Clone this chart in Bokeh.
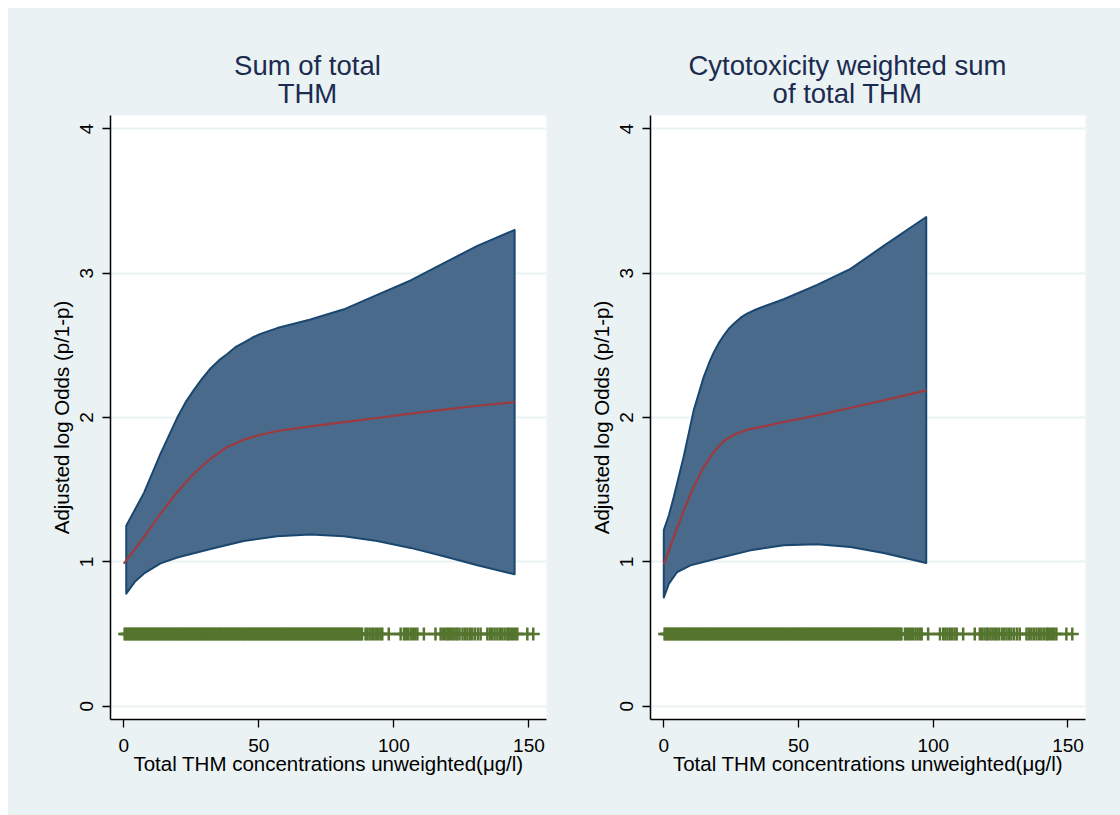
import math
from bokeh.plotting import figure
from bokeh.layouts import row, column
from bokeh.models import FixedTicker, Range1d, Title, Spacer
from bokeh.embed import file_html
from bokeh.resources import INLINE

# ---------------- data ----------------
titles_left = ["Sum of total", "THM"]
titles_right = ["Cytotoxicity weighted sum", "of total THM"]
x_label = "Total THM concentrations unweighted(\u03bcg/l)"
y_label = "Adjusted log Odds (p/1-p)"
x_ticks = [0, 50, 100, 150]
y_ticks = [0, 1, 2, 3, 4]

# Left panel: sum of total THM
l_up_x = [0.9, 7.5, 13.6, 19.8, 22.9, 25.9, 29.0, 32.1, 35.2, 38.3, 41.3, 44.4, 47.5, 50.6, 56.8,
          69.1, 81.5, 93.8, 106.2, 118.5, 130.9, 144.7]
l_up_y = [1.25, 1.48, 1.75, 2.00, 2.107, 2.19, 2.27, 2.34, 2.396, 2.44, 2.488, 2.52, 2.553, 2.58, 2.62,
          2.68, 2.75, 2.85, 2.95, 3.07, 3.19, 3.30]
l_lo_x = [0.9, 4.0, 7.5, 13.6, 19.8, 32.1, 44.4, 56.8, 69.1, 81.5, 93.8, 106.2, 118.5, 130.9, 144.7]
l_lo_y = [0.78, 0.86, 0.92, 0.99, 1.03, 1.09, 1.145, 1.177, 1.189, 1.177, 1.145, 1.097, 1.039, 0.977, 0.914]
l_fit_x = [0.0, 7.5, 13.6, 19.8, 25.9, 32.1, 38.3, 44.4, 50.6, 56.8, 69.1, 81.5, 93.8, 106.2, 118.5, 130.9, 144.7]
l_fit_y = [0.988, 1.173, 1.334, 1.484, 1.611, 1.715, 1.796, 1.847, 1.881, 1.907, 1.939, 1.969, 1.997, 2.027, 2.055, 2.082, 2.107]

# Right panel: cytotoxicity weighted sum
r_up_x = [0.0, 1.9, 3.7, 7.4, 11.1, 14.8, 16.7, 18.5, 20.4, 22.3, 24.1, 26.0, 28.5, 30.9, 34.0, 37.1,
          44.5, 56.9, 69.3, 81.6, 97.4]
r_up_y = [1.22, 1.323, 1.45, 1.73, 2.05, 2.28, 2.373, 2.45, 2.516, 2.57, 2.615, 2.65, 2.692, 2.72, 2.747, 2.77,
          2.82, 2.92, 3.03, 3.19, 3.39]
r_lo_x = [0.0, 1.9, 5.0, 9.9, 19.8, 32.2, 44.5, 56.9, 69.3, 81.6, 97.4]
r_lo_y = [0.753, 0.85, 0.93, 0.976, 1.023, 1.08, 1.115, 1.122, 1.103, 1.062, 0.993]
r_fit_x = [0.0, 3.7, 7.4, 11.1, 14.8, 18.5, 22.3, 26.0, 30.9, 37.1, 44.5, 56.9, 69.3, 81.6, 97.4]
r_fit_y = [0.983, 1.173, 1.357, 1.519, 1.657, 1.761, 1.838, 1.881, 1.916, 1.939, 1.969, 2.015, 2.068, 2.119, 2.188]

# Rug of observed concentrations (shown at y = 0.5)
rug_level = 0.5
rug_x = [
    0.3, 0.8, 1.4, 1.9, 2.5, 3.0, 3.6, 4.1, 4.7, 5.2, 5.8, 6.4, 6.9, 7.5, 8.0, 8.6, 9.1, 9.7,
    10.2, 10.8, 11.4, 11.9, 12.5, 13.0, 13.6, 14.1, 14.7, 15.3, 15.8, 16.4, 16.9, 17.5, 18.0,
    18.6, 19.2, 19.7, 20.3, 20.8, 21.4, 21.9, 22.5, 23.1, 23.6, 24.2, 24.7, 25.3, 25.8, 26.4,
    27.0, 27.5, 28.1, 28.6, 29.2, 29.7, 30.3, 30.9, 31.4, 32.0, 32.5, 33.1, 33.6, 34.2, 34.8,
    35.3, 35.9, 36.4, 37.0, 37.5, 38.1, 38.7, 39.2, 39.8, 40.3, 40.9, 41.4, 42.0, 42.6, 43.1,
    43.7, 44.2, 44.8, 45.3, 45.9, 46.5, 47.0, 47.6, 48.1, 48.7, 49.2, 49.8, 50.4, 50.9, 51.5,
    52.0, 52.6, 53.1, 53.7, 54.3, 54.8, 55.4, 55.9, 56.5, 57.0, 57.6, 58.2, 58.7, 59.3, 59.8,
    60.4, 60.9, 61.5, 62.1, 62.6, 63.2, 63.7, 64.3, 64.8, 65.4, 66.0, 66.5, 67.1, 67.6, 68.2,
    68.7, 69.3, 69.9, 70.4, 71.0, 71.5, 72.1, 72.6, 73.2, 73.8, 74.3, 74.9, 75.4, 76.0, 76.5,
    77.1, 77.7, 78.2, 78.8, 79.3, 79.9, 80.4, 81.0, 81.6, 82.1, 82.7, 83.2, 83.8, 84.3, 84.9,
    85.5, 86.0, 86.6, 87.1, 87.7, 88.2,
    89.5, 90.2, 91.0, 91.8, 92.5, 93.4, 94.2, 95.0, 95.7, 98.1, 102.5, 103.7, 104.5, 105.3,
    106.2, 107.0, 107.9, 108.7, 111.1, 115.4, 117.3, 118.1, 119.0, 119.8, 120.3, 121.2, 122.0,
    122.8, 123.5, 124.3, 125.4, 126.3, 127.2, 128.1, 129.0, 130.0, 131.1, 132.1, 134.6, 135.5,
    136.4, 137.3, 138.3, 139.2, 140.1, 141.0, 142.0, 142.5, 143.3, 144.1, 144.9, 145.7, 149.4,
    151.6,
]

# ---------------- style ----------------
BG = "#EAF2F3"
NAVY = "#1A476F"
BAND = "#4A6A8C"
MAROON = "#9E3A3E"
GREEN = "#55752F"
TITLE_C = "#1C2B50"
FONT = "Liberation Sans"


def make_panel(width, right_border, titles, title_offsets, up_x, up_y, lo_x, lo_y, fit_x, fit_y):
    p = figure(width=width, height=807, output_backend="svg", toolbar_location=None,
               x_range=Range1d(-4.93, 156.5), y_range=Range1d(-0.092, 4.093),
               min_border_left=102, min_border_right=right_border,
               min_border_top=107, min_border_bottom=96)
    p.background_fill_color = "white"
    p.border_fill_color = BG
    p.outline_line_color = None

    # band as a closed patch (upper then reversed lower)
    bx = list(up_x) + list(reversed(lo_x))
    by = list(up_y) + list(reversed(lo_y))
    p.patch(bx, by, fill_color=BAND, line_color=NAVY, line_width=2, line_join="round")
    p.line(fit_x, fit_y, line_color=MAROON, line_width=2.2, line_join="round")

    # rug
    ry = [rug_level] * len(rug_x)
    p.line(rug_x, ry, line_color=GREEN, line_width=2.4)
    p.scatter(rug_x, ry, marker="cross", size=13, line_color=GREEN, line_width=2.5)

    for ax in (p.xaxis, p.yaxis):
        ax.axis_line_color = "black"
        ax.axis_line_width = 1.5
        ax.major_tick_line_color = "black"
        ax.major_tick_line_width = 1.3
        ax.major_tick_out = 8
        ax.major_tick_in = 0
        ax.minor_tick_line_color = None
        ax.major_label_text_font = FONT
        ax.major_label_text_font_size = "19px"
        ax.major_label_text_color = "black"
        ax.axis_label_text_font = FONT
        ax.axis_label_text_font_size = "20.5px"
        ax.axis_label_text_font_style = "normal"
        ax.axis_label_text_color = "black"

    p.xaxis.ticker = FixedTicker(ticks=x_ticks)
    p.yaxis.ticker = FixedTicker(ticks=y_ticks)
    p.xaxis.axis_label = x_label
    p.yaxis.axis_label = y_label
    p.yaxis.major_label_orientation = "vertical"
    p.xaxis.major_label_standoff = 11
    p.yaxis.major_label_standoff = 9
    p.xaxis.axis_label_standoff = -3
    p.yaxis.axis_label_standoff = 5

    p.xgrid.grid_line_color = None
    p.ygrid.ticker = FixedTicker(ticks=y_ticks)
    p.ygrid.grid_line_color = BG
    p.ygrid.grid_line_width = 2

    # two-line title: inner line first, outer line second
    inner = Title(text=titles[1], align="left", offset=title_offsets[1], standoff=13.4,
                  text_font=FONT, text_font_size="27.5px", text_font_style="normal",
                  text_color=TITLE_C)
    outer = Title(text=titles[0], align="left", offset=title_offsets[0], standoff=-23.8,
                  text_font=FONT, text_font_size="27.5px", text_font_style="normal",
                  text_color=TITLE_C)
    p.add_layout(inner, "above")
    p.add_layout(outer, "above")
    return p


p1 = make_panel(540, 2, titles_left, [123.6, 167.2],
                l_up_x, l_up_y, l_lo_x, l_lo_y, l_fit_x, l_fit_y)
p2 = make_panel(572, 35, titles_right, [38.0, 122.1],
                r_up_x, r_up_y, r_lo_x, r_lo_y, r_fit_x, r_fit_y)

panels = row(p1, p2, spacing=0, styles={"background-color": BG})
layout = column(Spacer(height=8), row(Spacer(width=8), panels, spacing=0), spacing=0)
open("out.html", "w").write(file_html(layout, INLINE))
